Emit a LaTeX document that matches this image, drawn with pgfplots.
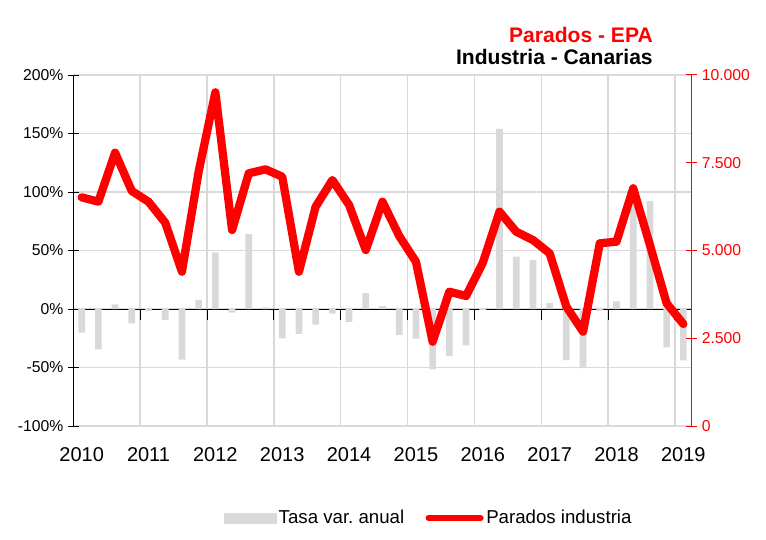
\documentclass[border=0pt]{standalone}
\usepackage{fontspec}
\setmainfont{Liberation Sans}
\usepackage{pgfplots}
\pgfplotsset{compat=1.18}
\definecolor{gridgray}{RGB}{217,217,217}
\definecolor{bargray}{RGB}{217,217,217}
\frenchspacing
\begin{document}
\begin{tikzpicture}
\useasboundingbox (-54.975pt,-84.75pt) rectangle (519.525pt,319.5pt);
\begin{axis}[
  width=463.8pt, height=263.25pt, scale only axis,
  at={(0pt,0pt)}, anchor=south west,
  xmin=-0.5, xmax=36.5, ymin=-100, ymax=200,
  axis x line*=middle, axis y line*=left,
  xtick={-0.5,3.5,...,35.5}, xticklabels={},
  xmajorgrids, ymajorgrids,
  extra x ticks={0,4,...,36},
  extra x tick labels={2010,2011,2012,2013,2014,2015,2016,2017,2018,2019},
  extra x tick style={grid=none, major tick length=0pt},
  xticklabel style={font=\fontsize{15}{16}\selectfont, yshift=-100pt},
  ytick={-100,-50,...,200},
  yticklabels={-100\%,-50\%,0\%,50\%,100\%,150\%,200\%},
  yticklabel style={font=\fontsize{11.8}{13}\selectfont},
  grid style={gridgray, line width=1.1pt},
  major grid style={gridgray, line width=1.1pt},
  tick align=center, major tick length=8pt,
  axis line style={black, line width=0.75pt},
  tick style={black, line width=0.75pt},
  ybar, bar width=0.4,
  clip=false,
]
\addplot[fill=bargray, draw=none] coordinates {
(0,-20.2) (1,-34.4) (2,4) (3,-12.2) (4,-1.9) (5,-9.2) (6,-43.2) (7,7.7)
(8,48.5) (9,-3.2) (10,64) (11,1.4) (12,-25.2) (13,-21.3) (14,-13.4) (15,-3.9)
(16,-11) (17,13.6) (18,2.5) (19,-22.4) (20,-25.3) (21,-51.7) (22,-40) (23,-31)
(24,-0.7) (25,154) (26,44.8) (27,42) (28,5) (29,-43.8) (30,-50.5) (31,-1.6)
(32,6.5) (33,99) (34,92.5) (35,-32.8) (36,-44)
};
\end{axis}
\begin{axis}[
  width=463.8pt, height=263.25pt, scale only axis,
  at={(0pt,0pt)}, anchor=south west,
  xmin=-0.5, xmax=36.5, ymin=0, ymax=10000,
  hide x axis, axis y line*=right,
  scaled y ticks=false,
  ytick={0,2500,5000,7500,10000},
  yticklabels={0,2.500,5.000,7.500,10.000},
  yticklabel style={font=\fontsize{11.8}{13}\selectfont, text=red},
  tick align=center, major tick length=8pt,
  axis line style={red, line width=0.75pt},
  tick style={red, line width=0.75pt},
  clip=false,
  legend columns=2,
  legend style={at={(0.236,-0.262)}, anchor=west, draw=none, fill=none,
    font=\fontsize{14}{15}\selectfont,
    /tikz/every even column/.append style={column sep=14pt}},
  legend cell align=left,
]
\addlegendimage{legend image code/.code={\fill[bargray] (0pt,-3.75pt) rectangle (39pt,3.75pt);}}
\addlegendentry{Tasa var. anual}
\addplot[red, line width=6.2pt, line join=round, line cap=round,
  legend image code/.code={\draw[red, line width=4.5pt, line cap=round] (2pt,0pt) -- (41pt,0pt);}]
coordinates {
(0,6515) (1,6390) (2,7786) (3,6695) (4,6390) (5,5792) (6,4396) (7,7250)
(8,9507) (9,5584) (10,7199) (11,7313) (12,7103) (13,4396) (14,6248) (15,7009)
(16,6296) (17,5014) (18,6390) (19,5413) (20,4681) (21,2402) (22,3826) (23,3704)
(24,4650) (25,6105) (26,5536) (27,5299) (28,4920) (29,3400) (30,2687) (31,5205)
(32,5251) (33,6772) (34,5157) (35,3496) (36,2906)
};
\addlegendentry{Parados industria}
\node[anchor=base east, inner sep=0pt, text=red, font=\bfseries\fontsize{15.8}{17}\selectfont] at (rel axis cs:0.9374,1.094) {Parados - EPA};
\node[anchor=base east, inner sep=0pt, font=\bfseries\fontsize{15.8}{17}\selectfont] at (rel axis cs:0.9374,1.0285) {Industria - Canarias};
\end{axis}
\end{tikzpicture}
\end{document}
